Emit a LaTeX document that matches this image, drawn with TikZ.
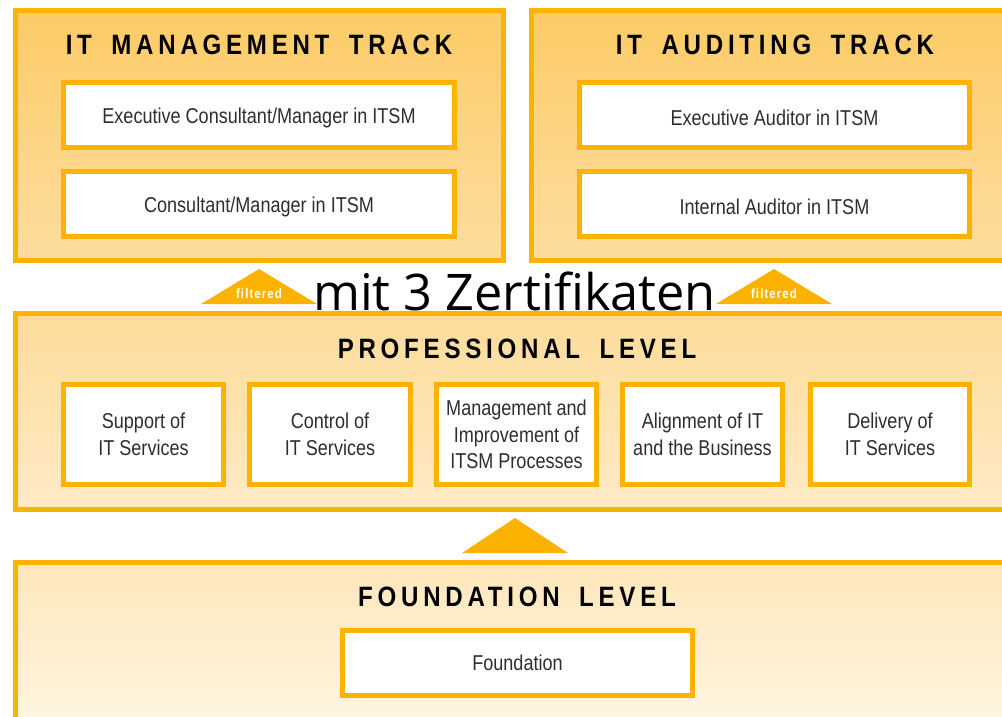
\documentclass[tikz,border=0pt]{standalone}
\usepackage{fontspec}
\setmainfont{Liberation Sans}
\newfontfamily\boxfont[FakeStretch=0.84]{Liberation Sans}
\newfontfamily\headfont[FakeStretch=0.86,LetterSpace=17,WordSpace=1.7]{Liberation Sans}
\newfontfamily\filtfont[FakeStretch=0.85,LetterSpace=8]{Liberation Sans}
\newfontfamily\mitfont{Open Sans}
\usepackage{tikz}
\usetikzlibrary{calc,positioning,shapes}
\definecolor{ybord}{HTML}{FBB200}
\definecolor{trtop}{HTML}{FCCB66}
\definecolor{trbot}{HTML}{FDDD9E}
\definecolor{prtop}{HTML}{FDDC9A}
\definecolor{prbot}{HTML}{FEEAC6}
\definecolor{fotop}{HTML}{FEE7BA}
\definecolor{fobot}{HTML}{FFF5E1}
\definecolor{boxtxt}{HTML}{2E2E2E}
\newcommand{\lowtext}[1]{\raisebox{-3pt}[\height][\depth]{#1}}

\begin{document}
\begin{tikzpicture}[x=1pt,y=-1pt]
          \tikzstyle{pnode} = [draw=ybord, line width=5pt, rectangle, inner sep=0pt]
          \tikzstyle{bnode} = [draw=ybord, fill=white, line width=5pt, rectangle, inner sep=0pt, align=center, text=boxtxt, font=\boxfont\fontsize{21.5}{26.5}\selectfont]
          \tikzstyle{hnode} = [inner sep=0pt, font=\headfont\bfseries\fontsize{28}{30}\selectfont]
          \tikzstyle{lnode} = [inner sep=0pt, text=white, font=\filtfont\bfseries\fontsize{13.5}{14}\selectfont]
          \tikzstyle{tri} = [fill=ybord]

          \useasboundingbox (0,0) rectangle (1002,717);
          \clip (0,0) rectangle (1002,717);

          % panels
          \node[pnode, top color=trtop, bottom color=trbot, minimum width=488pt, minimum height=250pt] (mgmt) at (259.5,135.5) {};
          \node[pnode, top color=trtop, bottom color=trbot, minimum width=478.5pt, minimum height=250pt] (audit) at (770.75,135.5) {};
          \node[pnode, top color=prtop, bottom color=prbot, minimum width=994.5pt, minimum height=196pt] (prof) at (512.75,411.5) {};
          \node[pnode, top color=fotop, bottom color=fobot, minimum width=994.5pt, minimum height=162.5pt] (found) at (512.75,643.75) {};

          % headings
          \node[hnode] (mgmttitle) at (259,45) {IT MANAGEMENT TRACK};
          \node[hnode] (audittitle) at (775,45) {IT AUDITING TRACK};
          \node[hnode] (proftitle) at (517,349) {PROFESSIONAL LEVEL};
          \node[hnode] (foundtitle) at (517,597) {FOUNDATION LEVEL};

          % tracks
          \node[bnode, minimum width=391pt, minimum height=65pt] (execcons) at (259,115) {\lowtext{Executive Consultant/Manager in ITSM}};
          \node[bnode, minimum width=391pt, minimum height=65pt] (cons) at (259,203.5) {\lowtext{Consultant/Manager in ITSM}};
          \node[bnode, minimum width=390pt, minimum height=65pt] (execaud) at (774.5,115) {\lowtext{Executive Auditor in ITSM}};
          \node[bnode, minimum width=390pt, minimum height=65pt] (intaud) at (774.5,203.5) {\lowtext{Internal Auditor in ITSM}};

          % professional modules
          \node[bnode, minimum width=160pt, minimum height=100pt] (support) at (143.5,434.5) {Support of\\IT Services};
          \node[bnode, minimum width=161pt, minimum height=100pt] (control) at (330,434.5) {Control of\\IT Services};
          \node[bnode, minimum width=160pt, minimum height=100pt] (improve) at (516.5,434.5) {Management and\\Improvement of\\ITSM Processes};
          \node[bnode, minimum width=160pt, minimum height=100pt] (align) at (702.5,434.5) {Alignment of IT\\and the Business};
          \node[bnode, minimum width=159pt, minimum height=100pt] (delivery) at (890,434.5) {Delivery of\\IT Services};

          % foundation
          \node[bnode, minimum width=350pt, minimum height=65pt] (foundbox) at (517.5,663) {Foundation};

          % arrows between levels
          \fill[tri] (201,304) -- (259,269) -- (317,304) -- cycle;
          \fill[tri] (716,304) -- (774,269) -- (832,304) -- cycle;
          \fill[tri] (462,553) -- (515,518) -- (568,553) -- cycle;
          \node[lnode] (filtl) at (259,294) {filtered};
          \node[lnode] (filtr) at (774,294) {filtered};

          \node[inner sep=0pt, anchor=base, font=\mitfont\fontsize{50.5}{52}\selectfont] (certs) at (514.5,310) {mit 3 Zertifikaten};
        \end{tikzpicture}
\end{document}
